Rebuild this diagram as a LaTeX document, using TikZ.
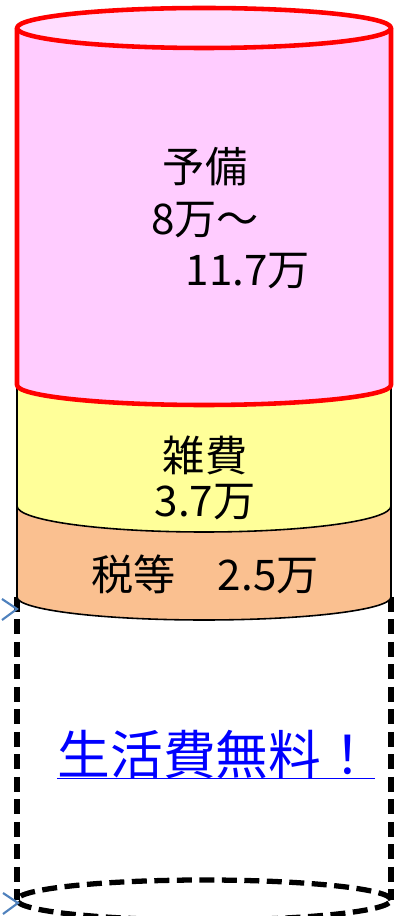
\documentclass[tikz,border=0pt]{standalone}
\usepackage{fontspec}
\setmainfont{Noto Sans CJK JP}

\definecolor{yobipink}{HTML}{FFCCFF}
\definecolor{yobitop}{HTML}{FFDDFF}
\definecolor{zatsuyellow}{HTML}{FFFF99}
\definecolor{zeiorange}{HTML}{FAC090}
\definecolor{markblue}{HTML}{4F81BD}

\begin{document}
\begin{tikzpicture}
		[
		x=1cm, y=1cm, font=\fontsize{24}{29}\selectfont,
		%Linienarten
		redline/.style={draw=red, line width=2.6pt, line join=round},
		thinline/.style={draw=black, line width=0.9pt},
		dashline/.style={draw=black, line width=3pt, dash pattern=on 0.3cm off 0.15cm},
		marker/.style={draw=markblue, line width=1.2pt},
		label/.style={inner sep=0pt, align=center}
		]
		
		%Rahmen
		\useasboundingbox (0,0) rectangle (7.9,18.32);
		\clip (0,0) rectangle (7.9,18.32);
		
		%gestrichelter Teil unten
		\draw[dashline] (0.34,6.38) -- (0.34,0.32);
		\draw[dashline] (7.82,6.38) -- (7.82,0.32);
		\draw[dashline] (4.08,0.32) ellipse [x radius=3.74, y radius=0.4];
		
		%Steuern
		\filldraw[thinline, fill=zeiorange] (0.34,8.2) -- (0.34,6.38)
		arc [start angle=180, end angle=360, x radius=3.74, y radius=0.46] -- (7.82,8.2);
		
		%Nebenkosten
		\filldraw[thinline, fill=zatsuyellow] (0.34,10.62) -- (0.34,8.2)
		arc [start angle=180, end angle=360, x radius=3.74, y radius=0.52] -- (7.82,10.62);
		
		%Reserve
		\filldraw[redline, fill=yobipink] (0.34,17.76) -- (0.34,10.62)
		arc [start angle=180, end angle=360, x radius=3.74, y radius=0.4] -- (7.82,17.76);
		\filldraw[redline, fill=yobitop] (4.08,17.76) ellipse [x radius=3.74, y radius=0.4];
		
		%Markierungen links
		\coordinate (markA) at (0.34,6.14);
		\coordinate (markB) at (0.36,0.26);
		\foreach \m in {markA,markB}
		\draw[marker] (\m) ++(-0.3,0.2) -- (\m) -- ++(-0.3,-0.22);
		
		%Texte
		\node[label] (yobi) at (4.1,14.98) {予備};
		\node[label] (yobimin) at (4.1,13.92) {8万～};
		\node[label] (yobimax) at (4.96,12.9) {11.7万};
		\node[label] (zatsu) at (4.1,9.22) {雑費};
		\node[label] (zatsuval) at (4.1,8.28) {3.7万};
		\node[label] (zei) at (4.1,6.84) {税等　2.5万};
		\node[label, text=blue, font=\fontsize{30}{36}\selectfont] (free) at (4.32,3.22) {生活費無料！};
		\draw[blue, line width=1.1pt] ([yshift=-2pt]free.base west) -- ([yshift=-2pt]free.base east);
	\end{tikzpicture}
\end{document}
